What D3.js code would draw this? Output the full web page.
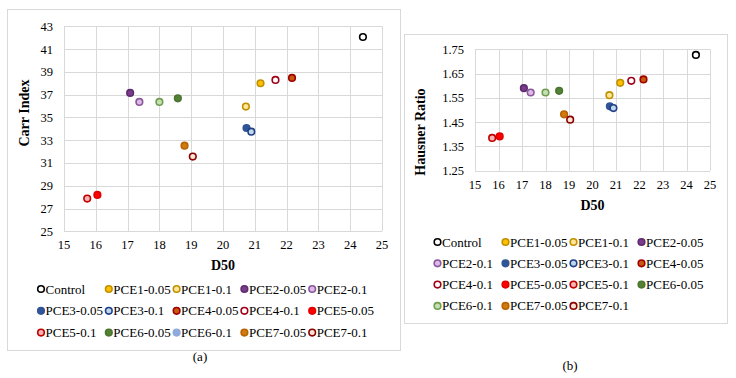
<!DOCTYPE html>
<html>
<head>
<meta charset="utf-8">
<script src="https://cdn.jsdelivr.net/npm/d3@7"></script>
<style>
body { margin:0; background:#fff; }
text { font-family: "Liberation Serif", "Times New Roman", serif; fill:#000; }
</style>
</head>
<body>
<div id="chart"></div>
<script>
// data
var series = ["Control","PCE1-0.05","PCE1-0.1","PCE2-0.05","PCE2-0.1","PCE3-0.05","PCE3-0.1",
  "PCE4-0.05","PCE4-0.1","PCE5-0.05","PCE5-0.1","PCE6-0.05","PCE6-0.1","PCE7-0.05","PCE7-0.1"];
var d50 = [24.4, 21.18, 20.72, 17.08, 17.37, 20.74, 20.89, 22.17, 21.65, 16.05, 15.73, 18.58, 18.0, 18.79, 19.05];
var carr = [42.06, 38.0, 35.95, 37.15, 36.36, 34.07, 33.75, 38.47, 38.29, 28.19, 27.87, 36.68, 36.36, 32.52, 31.56];
var hausner = [1.727, 1.612, 1.561, 1.590, 1.572, 1.515, 1.508, 1.626, 1.620, 1.391, 1.385, 1.579, 1.572, 1.482, 1.460];
var xTicks = [15,16,17,18,19,20,21,22,23,24,25];
var carrTicks = [25,27,29,31,33,35,37,39,41,43];
var hausnerTicks = [1.25,1.35,1.45,1.55,1.65,1.75];

// marker styles [fill, stroke]
var styles = {
  "Control":["#ffffff","#000000"],
  "PCE1-0.05":["#ffc000","#bf9000"],
  "PCE1-0.1":["#ffe699","#bf9000"],
  "PCE2-0.05":["#7a3d8c","#5e2b6e"],
  "PCE2-0.1":["#dcb9e8","#8a579b"],
  "PCE3-0.05":["#2f5597","#2f5597"],
  "PCE3-0.1":["#bdd7ee","#203f86"],
  "PCE4-0.05":["#c55a11","#a00000"],
  "PCE4-0.1":["#ffffff","#a00018"],
  "PCE5-0.05":["#ff0000","#e00000"],
  "PCE5-0.1":["#f6b4b4","#c00000"],
  "PCE6-0.05":["#548235","#4b7530"],
  "PCE6-0.1":["#c5e0b4","#6f9e50"],
  "PCE7-0.05":["#d07a12","#b86200"],
  "PCE7-0.1":["#fbe5d6","#8b0000"]
};
// legend of (a) shows PCE6-0.1 in light blue
var legendAOverride = {"PCE6-0.1":["#8faadc","#8faadc"]};

var svg = d3.select("#chart").append("svg")
  .attr("width",736)
  .attr("height",378);

svg.append("rect").attr("width",736).attr("height",378).attr("fill","#fff");

function panel(cfg){
  var g = svg.append("g");

  g.append("rect")
    .attr("x",cfg.box[0]+0.5).attr("y",cfg.box[1]+0.5)
    .attr("width",cfg.box[2]-cfg.box[0]).attr("height",cfg.box[3]-cfg.box[1])
    .attr("fill","#fff").attr("stroke","#d9d9d9").attr("stroke-width",1);

  var x = d3.scaleLinear().domain([15,25]).range([cfg.plot[0],cfg.plot[2]]);
  var y = d3.scaleLinear().domain(cfg.yDomain).range([cfg.plot[3],cfg.plot[1]]);

  // grid
  g.selectAll(".vg").data(xTicks).enter().append("line")
    .attr("x1",function(d){return Math.round(x(d))+0.5})
    .attr("x2",function(d){return Math.round(x(d))+0.5})
    .attr("y1",y(cfg.yDomain[0])).attr("y2",y(cfg.yDomain[1]))
    .attr("stroke","#d9d9d9");
  g.selectAll(".hg").data(cfg.yTicks).enter().append("line")
    .attr("y1",function(d){return Math.round(y(d))+0.5})
    .attr("y2",function(d){return Math.round(y(d))+0.5})
    .attr("x1",x(15)).attr("x2",x(25))
    .attr("stroke","#d9d9d9");

  // tick labels
  g.selectAll(".xt").data(xTicks).enter().append("text")
    .attr("x",function(d){return x(d)})
    .attr("y",cfg.plot[3]+18)
    .attr("text-anchor","middle")
    .attr("font-size","12.5px")
    .text(function(d){return d});
  g.selectAll(".yt").data(cfg.yTicks).enter().append("text")
    .attr("x",cfg.plot[0]-11)
    .attr("y",function(d){return y(d)+4.5})
    .attr("text-anchor","end")
    .attr("font-size","12.5px")
    .text(cfg.yFormat);

  // titles
  g.append("text")
    .attr("x",(cfg.plot[0]+cfg.plot[2])/2)
    .attr("y",cfg.plot[3]+39)
    .attr("text-anchor","middle")
    .attr("font-size","14px")
    .attr("font-weight","bold")
    .text("D50");
  g.append("text")
    .attr("transform","translate("+cfg.yTitle[0]+","+cfg.yTitle[1]+") rotate(-90)")
    .attr("text-anchor","middle")
    .attr("font-size","14px")
    .attr("font-weight","bold")
    .text(cfg.yLabel);

  // points
  g.selectAll(".pt").data(series).enter().append("circle")
    .attr("cx",function(d,i){return x(d50[i])})
    .attr("cy",function(d,i){return y(cfg.values[i])})
    .attr("r",3.3)
    .attr("fill",function(d){return styles[d][0]})
    .attr("stroke",function(d){return styles[d][1]})
    .attr("stroke-width",1.6);

  // legend
  var leg = g.selectAll(".lg").data(series).enter().append("g")
    .attr("transform",function(d,i){
      var c = i % cfg.perRow, r = Math.floor(i / cfg.perRow);
      return "translate("+(cfg.legX+c*cfg.legDX)+","+(cfg.legY+r*cfg.legDY)+")";
    });
  leg.append("circle")
    .attr("r",3.3)
    .attr("fill",function(d){return (cfg.override[d]||styles[d])[0]})
    .attr("stroke",function(d){return (cfg.override[d]||styles[d])[1]})
    .attr("stroke-width",1.6);
  leg.append("text")
    .attr("x",4.5)
    .attr("y",4.5)
    .attr("font-size","13px")
    .text(function(d){return d});

  svg.append("text")
    .attr("x",cfg.caption[0]).attr("y",cfg.caption[1])
    .attr("text-anchor","middle")
    .attr("font-size","13px")
    .text(cfg.captionText);
}

panel({
  box:[7,9,400,350],
  plot:[64,26.3,382,231.3],
  yDomain:[25,43],
  yTicks:carrTicks,
  yFormat:function(d){return d},
  yLabel:"Carr Index",
  yTitle:[29,113],
  values:carr,
  perRow:5, legX:41, legY:289, legDX:67.8, legDY:21.8,
  override:legendAOverride,
  caption:[200,361], captionText:"(a)"
});

panel({
  box:[404,34,727,323],
  plot:[475,49.3,710,170.7],
  yDomain:[1.25,1.75],
  yTicks:hausnerTicks,
  yFormat:d3.format(".2f"),
  yLabel:"Hausner Ratio",
  yTitle:[425,132],
  values:hausner,
  perRow:4, legX:437.5, legY:242, legDX:68, legDY:21.3,
  override:{},
  caption:[570,370], captionText:"(b)"
});
</script>
</body>
</html>
